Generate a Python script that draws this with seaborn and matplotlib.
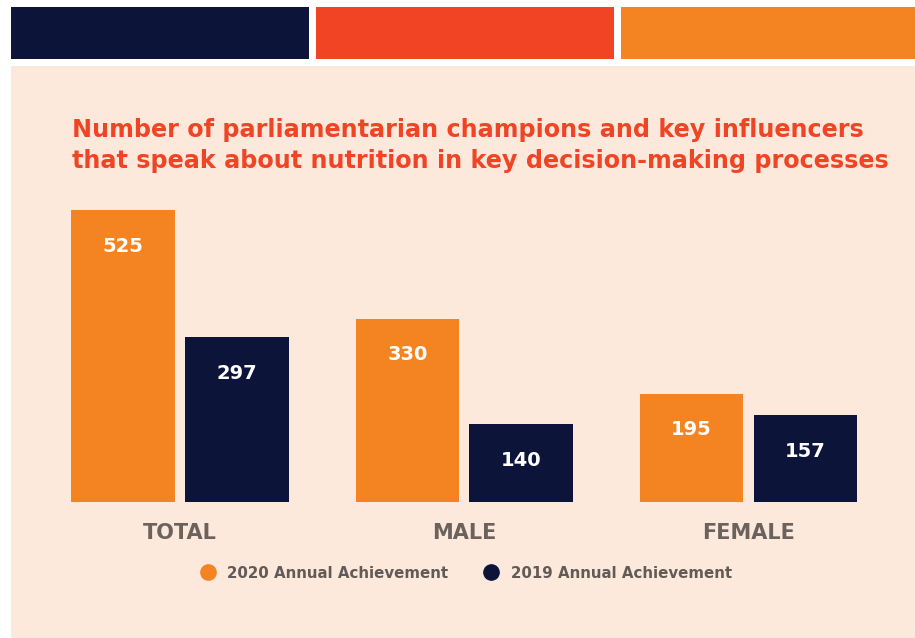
import matplotlib
matplotlib.use("Agg")
import matplotlib.pyplot as plt
from matplotlib.patches import Rectangle
from matplotlib.lines import Line2D
import seaborn as sns
import pandas as pd

categories = ["TOTAL", "MALE", "FEMALE"]
series_names = ["2020 Annual Achievement", "2019 Annual Achievement"]
values_2020 = [525, 330, 195]
values_2019 = [297, 140, 157]
title_lines = ["Number of parliamentarian champions and key influencers",
               "that speak about nutrition in key decision-making processes"]

NAVY = "#0C1539"
RED = "#F04425"
ORANGE = "#F48421"
PEACH = "#FDE9DC"
GREY = "#625A56"

df = pd.DataFrame({
    "category": categories * 2,
    "series": [series_names[0]] * 3 + [series_names[1]] * 3,
    "value": values_2020 + values_2019,
})

sns.set_theme(style="white")
plt.rcParams["font.family"] = ["DejaVu Sans"]

W, H = 915, 638
fig = plt.figure(figsize=(W / 100, H / 100), dpi=100)
fig.patch.set_facecolor("white")

def px_rect(x0, y0, x1, y1, color):
    fig.patches.append(Rectangle((x0 / W, 1 - y1 / H), (x1 - x0) / W, (y1 - y0) / H,
                                 transform=fig.transFigure, facecolor=color,
                                 edgecolor="none", zorder=-5))

px_rect(11, 7, 309, 59, NAVY)
px_rect(316, 7, 614, 59, RED)
px_rect(621, 7, 915, 59, ORANGE)
px_rect(11, 66, 915, 638, PEACH)

# axes: category spacing 284.25 px, baseline at y=502, 0.556 px/unit
unit = 284.25
ax_left = 180 - unit / 2
ax_w = unit * 3
ymax = 600
ax_h = ymax * 0.556
ax = fig.add_axes([ax_left / W, (H - 502) / H, ax_w / W, ax_h / H])
ax.set_facecolor("none")
ax.set_zorder(2)

sns.barplot(data=df, x="category", y="value", hue="series", order=categories,
            hue_order=series_names, palette=[ORANGE, NAVY], width=0.8, gap=0.09,
            saturation=1, ax=ax, legend=False, linewidth=0, edgecolor="none")
ax.set_xlim(-0.5, 2.5)
ax.set_ylim(0, ymax)
for c in ax.containers:
    ax.bar_label(c, padding=-33, color="white", fontweight="bold", fontsize=14)

for s in ax.spines.values():
    s.set_visible(False)
ax.set_yticks([])
ax.set_xlabel("")
ax.set_ylabel("")
ax.tick_params(axis="x", length=0, pad=15)
for t in ax.get_xticklabels():
    t.set_fontsize(15)
    t.set_fontweight("bold")
    t.set_color("#6B625E")

fig.text(72 / W, 1 - 130 / H, title_lines[0], color=RED, fontsize=17.2,
         fontweight="bold", va="center", ha="left")
fig.text(72 / W, 1 - 161 / H, title_lines[1], color=RED, fontsize=17.2,
         fontweight="bold", va="center", ha="left")

handles = [Line2D([], [], marker="o", linestyle="none", markersize=11,
                  markerfacecolor=col, markeredgecolor=col)
           for col in (ORANGE, NAVY)]
leg = fig.legend(handles, series_names, loc="center", bbox_to_anchor=(466 / W, 1 - 573 / H),
                 ncol=2, frameon=False, handletextpad=0.8, columnspacing=2.35,
                 handlelength=1.0, prop={"size": 10.8, "weight": "bold"})
for t in leg.get_texts():
    t.set_color(GREY)

fig.savefig("out.png", dpi=100, facecolor="white")
